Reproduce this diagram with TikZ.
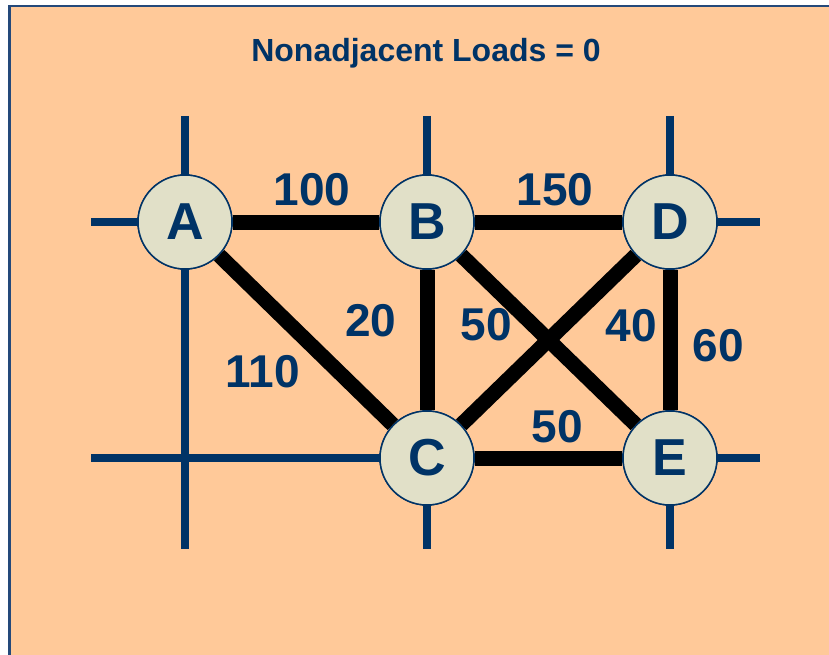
\documentclass[tikz,border=0pt]{standalone}
\usepackage{fontspec}
\setmainfont{Liberation Sans}
\definecolor{peach}{HTML}{FFC999}
\definecolor{navy}{HTML}{003366}
\definecolor{framecol}{HTML}{24497A}
\definecolor{nodefill}{HTML}{E1E0C8}
\begin{document}
\begin{tikzpicture}[x=1pt,y=-1pt,
  gridline/.style={draw=navy,line width=8pt},
  link/.style={draw=black,line width=15pt},
  city/.style={circle,draw=navy,line width=1.5pt,fill=nodefill,minimum size=94pt,inner sep=0pt,text=navy,font=\fontsize{52}{52}\selectfont\bfseries},
  load/.style={text=navy,font=\fontsize{46}{46}\selectfont\bfseries,inner sep=0pt}]
\useasboundingbox (0,0) rectangle (829,655);
\fill[white] (0,0) rectangle (829,655);
\draw[fill=peach,draw=framecol,line width=2.5pt] (9.5,6) rectangle (845,670);
% grid line end points
\coordinate (v1t) at (185,116); \coordinate (v1b) at (185,549);
\coordinate (v2t) at (427,116); \coordinate (v2b) at (427,549);
\coordinate (v3t) at (670,116); \coordinate (v3b) at (670,549);
\coordinate (h1l) at (91,222); \coordinate (h1r) at (760,222);
\coordinate (h2l) at (91,458); \coordinate (h2r) at (760,458);
\draw[gridline] (v1t) -- (v1b);
\draw[gridline] (v2t) -- (v2b);
\draw[gridline] (v3t) -- (v3b);
\draw[gridline] (h1l) -- (h1r);
\draw[gridline] (h2l) -- (h2r);
% nodes
\node[city] (A) at (185,222) {A};
\node[city] (B) at (427,222) {B};
\node[city] (D) at (670,222) {D};
\node[city] (C) at (427,458) {C};
\node[city] (E) at (670,458) {E};
% links
\draw[link] (A) -- (B);
\draw[link] (B) -- (D);
\draw[link] (A) -- (C);
\draw[link] (B) -- (C);
\draw[link] (B) -- (E);
\draw[link] (D) -- (C);
\draw[link] (D) -- (E);
\draw[link] (C) -- (E);
% redraw nodes on top
\node[city] at (A) {A};
\node[city] at (B) {B};
\node[city] at (D) {D};
\node[city] at (C) {C};
\node[city] at (E) {E};
% labels
\node[load] (lAB) at (312,190) {100};
\node[load] (lBD) at (555,190) {150};
\node[load] (lBC) at (371,321) {20};
\node[load] (lBE) at (486,325) {50};
\node[load] (lDC) at (631,326) {40};
\node[load] (lDE) at (718,346) {60};
\node[load] (lAC) at (263,372) {110};
\node[load] (lCE) at (557,427) {50};
% title
\node[text=navy,font=\fontsize{32}{32}\selectfont\bfseries,anchor=base,inner sep=0pt] (title) at (426,62) {Nonadjacent Loads = 0};
\end{tikzpicture}
\end{document}
